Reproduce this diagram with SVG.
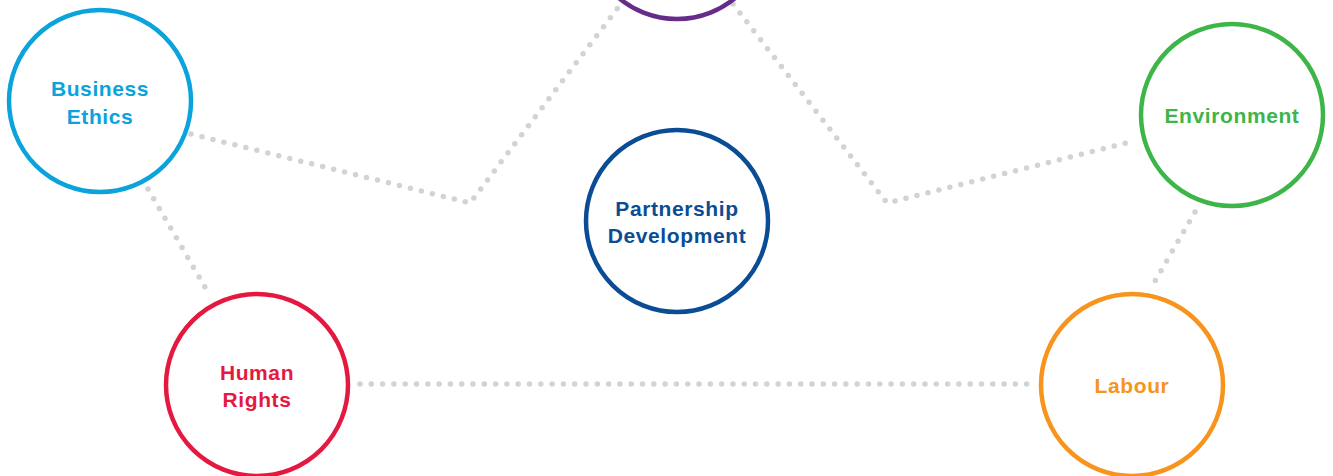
<svg xmlns="http://www.w3.org/2000/svg" width="1333" height="476" viewBox="0 0 1333 476">
  <style>
    .link { fill: none; stroke: #d2d3d5; stroke-width: 5.5; stroke-linecap: round; stroke-linejoin: round; stroke-dasharray: 0 11.3; }
    .ring { fill: #ffffff; stroke-width: 4.5; }
    .label { font-family: "Liberation Sans", Arial, Helvetica, sans-serif; font-weight: bold; font-size: 21px; text-anchor: middle; letter-spacing: 0.6px; }
  </style>

  <!-- dotted connectors -->
  <g id="connectors">
    <path class="link" d="M191,134 L470,203 L620,5"/>
    <path class="link" d="M733,4 L887,203 L1134,141"/>
    <path class="link" d="M148,189 L209,294"/>
    <path class="link" d="M1195,212 L1151,288"/>
    <path class="link" d="M360,384 L1037,384"/>
  </g>

  <!-- top circle, mostly above the frame -->
  <g id="node-top">
    <circle class="ring" cx="677" cy="-72" r="91" stroke="#652d89"/>
  </g>

  <g id="node-business-ethics">
    <circle class="ring" cx="100" cy="101" r="91" stroke="#0aa3dc"/>
    <text class="label" fill="#0aa3dc" x="100" y="96">Business</text>
    <text class="label" fill="#0aa3dc" x="100" y="124">Ethics</text>
  </g>

  <g id="node-partnership">
    <circle class="ring" cx="677" cy="221" r="91" stroke="#0a4d94"/>
    <text class="label" fill="#0a4d94" x="677" y="216">Partnership</text>
    <text class="label" fill="#0a4d94" x="677" y="243">Development</text>
  </g>

  <g id="node-environment">
    <circle class="ring" cx="1232" cy="115" r="91" stroke="#3db549"/>
    <text class="label" fill="#3db549" x="1232" y="123">Environment</text>
  </g>

  <g id="node-human-rights">
    <circle class="ring" cx="257" cy="385" r="91" stroke="#e5193f"/>
    <text class="label" fill="#e5193f" x="257" y="380">Human</text>
    <text class="label" fill="#e5193f" x="257" y="407">Rights</text>
  </g>

  <g id="node-labour">
    <circle class="ring" cx="1132" cy="385" r="91" stroke="#f7941d"/>
    <text class="label" fill="#f7941d" x="1132" y="393">Labour</text>
  </g>
</svg>
